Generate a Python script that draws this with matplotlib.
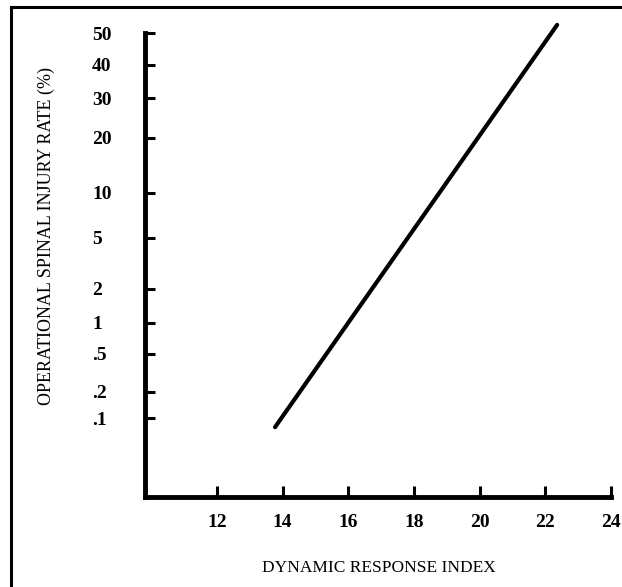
import math
import numpy as np
import matplotlib
matplotlib.use('Agg')
import matplotlib.pyplot as plt
from matplotlib.lines import Line2D

# data
dri = [13.77, 22.36]
injury_rate = [0.078, 52.6]  # percent

x_ticks = [12, 14, 16, 18, 20, 22, 24]
y_ticks = [0.1, 0.2, 0.5, 1, 2, 5, 10, 20, 30, 40, 50]
y_tick_labels = ['.1', '.2', '.5', '1', '2', '5', '10', '20', '30', '40', '50']

_erf = np.vectorize(math.erf, otypes=[float])


def norm_cdf(z):
    return 0.5 * (1 + _erf(np.asarray(z, dtype=float) / math.sqrt(2)))


def norm_ppf(p):
    p = np.clip(np.asarray(p, dtype=float), 1e-12, 1 - 1e-12)
    lo = np.full(p.shape, -10.0)
    hi = np.full(p.shape, 10.0)
    for i in range(70):
        mid = (lo + hi) / 2
        below = norm_cdf(mid) < p
        lo = np.where(below, mid, lo)
        hi = np.where(below, hi, mid)
    return (lo + hi) / 2


def forward(y):
    return norm_ppf(np.asarray(y, dtype=float) / 100)


def inverse(z):
    return norm_cdf(z) * 100


plt.rcParams['font.family'] = ['Liberation Serif', 'DejaVu Serif']

W, H = 622, 587
fig = plt.figure(figsize=(W / 100, H / 100), dpi=100)
ax = fig.add_axes([145 / W, 1 - 497 / H, (611 - 145) / W, (497 - 33) / H])

ax.plot(dri, injury_rate, color='black', lw=3, solid_capstyle='round', clip_on=False)

ax.set_yscale('function', functions=(forward, inverse))
ax.set_xlim(9.81, 24)
ax.set_ylim(inverse(-3.724), 50)

ax.set_xticks(x_ticks)
ax.set_xticklabels([str(t) for t in x_ticks], fontsize=14, fontweight='bold')
ax.set_yticks(y_ticks)
ax.set_yticklabels(y_tick_labels, fontsize=14, fontweight='bold', ha='left')
ax.yaxis.set_minor_locator(matplotlib.ticker.NullLocator())
ax.xaxis.set_minor_locator(matplotlib.ticker.NullLocator())

ax.tick_params(axis='x', direction='in', length=8, width=2.2, pad=12)
ax.tick_params(axis='y', direction='in', length=7, width=2.2, pad=38)

for s in ['top', 'right']:
    ax.spines[s].set_visible(False)
for s in ['left', 'bottom']:
    ax.spines[s].set_linewidth(3.5)
    ax.spines[s].set_capstyle('projecting')

fig.text(379 / W, 1 - 568 / H, 'DYNAMIC RESPONSE INDEX', ha='center', va='center', fontsize=12.5)
fig.text(46 / W, 1 - 236 / H, 'OPERATIONAL SPINAL INJURY RATE (%)', ha='center', va='center',
         rotation=90, fontsize=13)

# frame around the figure (only left and top edges visible)
fig.add_artist(Line2D([11 / W, 11 / W], [-0.05, 1 - 7 / H], color='black', lw=2.2, transform=fig.transFigure))
fig.add_artist(Line2D([11 / W, 1.05], [1 - 7 / H, 1 - 7 / H], color='black', lw=2.2, transform=fig.transFigure))

fig.savefig('out.png', dpi=100)
